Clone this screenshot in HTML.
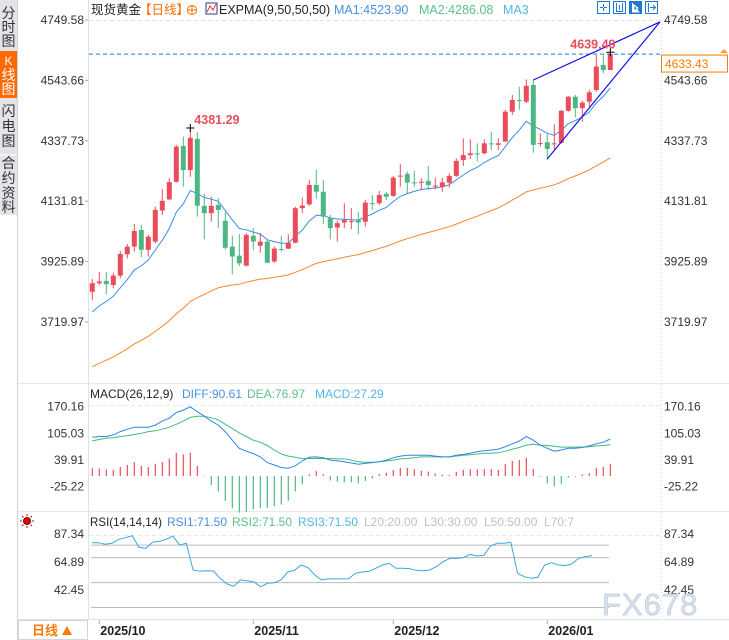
<!DOCTYPE html>
<html><head><meta charset="utf-8">
<style>
html,body{margin:0;padding:0;background:#fff;}
svg{display:block;font-family:"Liberation Sans","Noto Sans CJK SC",sans-serif;}
</style></head>
<body>
<svg id="chart" width="729" height="640" viewBox="0 0 729 640" xmlns="http://www.w3.org/2000/svg">
  <!-- sidebar -->
  <g>
    <rect x="0" y="0" width="17" height="215" fill="#e4e4e8"/>
    <line x1="17.5" y1="0" x2="17.5" y2="640" stroke="#cfd3da"/>
    <g>
      <text x="8.5" y="18" font-size="14" fill="#333" text-anchor="middle">分</text>
      <text x="8.5" y="32" font-size="14" fill="#333" text-anchor="middle">时</text>
      <text x="8.5" y="46" font-size="14" fill="#333" text-anchor="middle">图</text>
    </g>
    <g>
      <rect x="0" y="51" width="17" height="47" fill="#ff6a00"/>
      <text x="8.5" y="65" font-size="12" fill="#fff" text-anchor="middle">K</text>
      <text x="8.5" y="80" font-size="14" fill="#fff" text-anchor="middle">线</text>
      <text x="8.5" y="94" font-size="14" fill="#fff" text-anchor="middle">图</text>
    </g>
    <g>
      <text x="8.5" y="116" font-size="14" fill="#333" text-anchor="middle">闪</text>
      <text x="8.5" y="131" font-size="14" fill="#333" text-anchor="middle">电</text>
      <text x="8.5" y="146" font-size="14" fill="#333" text-anchor="middle">图</text>
    </g>
    <line x1="0" y1="155" x2="17" y2="155" stroke="#fff"/>
    <g>
      <text x="8.5" y="168" font-size="14" fill="#333" text-anchor="middle">合</text>
      <text x="8.5" y="183" font-size="14" fill="#333" text-anchor="middle">约</text>
      <text x="8.5" y="198" font-size="14" fill="#333" text-anchor="middle">资</text>
      <text x="8.5" y="212" font-size="14" fill="#333" text-anchor="middle">料</text>
    </g>
  </g>
  <!-- frame lines -->
  <line x1="88.5" y1="0" x2="88.5" y2="620" stroke="#dde3ea"/>
  <line x1="661.5" y1="20" x2="661.5" y2="620" stroke="#d0d6de" stroke-dasharray="1,3"/>
  <line x1="18" y1="383.5" x2="729" y2="383.5" stroke="#e6e9ee"/>
  <line x1="18" y1="511.5" x2="729" y2="511.5" stroke="#e6e9ee"/>
  <line x1="18" y1="619.5" x2="729" y2="619.5" stroke="#dde3ea"/>
  <line x1="89" y1="20.5" x2="660" y2="20.5" stroke="#e3e3e3" stroke-dasharray="4,3"/>
  <line x1="89" y1="405.5" x2="660" y2="405.5" stroke="#e3e8ee" stroke-dasharray="4,3"/>
  <line x1="89" y1="535.5" x2="660" y2="535.5" stroke="#e3e8ee" stroke-dasharray="4,3"/>

  <!-- header -->
  <g>
    <text x="91" y="14" font-size="12.5" fill="#222">现货黄金</text>
    <text x="139" y="14" font-size="12.5" fill="#ff6a00">【日线】</text>
    <g>
      <circle cx="192" cy="10" r="4.5" fill="none" stroke="#ff6a00"/>
      <line x1="187.5" y1="10" x2="196.5" y2="10" stroke="#ff6a00"/>
      <line x1="192" y1="5.5" x2="192" y2="14.5" stroke="#ff6a00"/>
    </g>
    <g>
      <rect x="206" y="3" width="11" height="11" fill="#fff" stroke="#2a3f8f"/>
      <polyline points="207,12 210,6 213,10 216,4" fill="none" stroke="#e33"/>
    </g>
    <text x="219" y="14" font-size="12.5" fill="#222">EXPMA(9,50,50,50)</text>
    <text x="334" y="14" font-size="12.5" fill="#4a90e2">MA1:4523.90</text>
    <text x="419" y="14" font-size="12.5" fill="#5cc28a">MA2:4286.08</text>
    <text x="503" y="14" font-size="12.5" fill="#52b6e8">MA3</text>
  </g>
  <g>
    <g><rect x="597.5" y="1.5" width="12" height="12" fill="#fff" stroke="#1f78d1"/><path d="M603.5 4v3M603.5 8v3M600 7.5h3M604 7.5h3" stroke="#1f78d1"/></g>
    <g><rect x="613.5" y="1.5" width="12" height="12" fill="#fff" stroke="#1f78d1"/><path d="M616.5 3v9M622.5 3v9M616 11.5h7M619.5 5v5" stroke="#1f78d1"/></g>
    <g><rect x="629.5" y="1.5" width="12" height="12" fill="#1f78d1" stroke="#1f78d1"/><path d="M632.5 3v9h7M634 5l4 3-4 3z" stroke="#fff" fill="#fff"/></g>
    <g><rect x="645.5" y="1.5" width="12" height="12" fill="#fff" stroke="#1f78d1"/><path d="M648.5 3v9M650 7.5h5M653 5l2.5 2.5-2.5 2.5" stroke="#1f78d1" fill="none"/></g>
  </g>

  <g id="main"></g>
  <g id="macd"></g>
  <g id="rsi"></g>

  <!-- macd header -->
  <g>
    <text x="90" y="398" font-size="12" fill="#222">MACD(26,12,9)</text>
    <text x="182" y="398" font-size="12" fill="#4a90e2">DIFF:90.61</text>
    <text x="247" y="398" font-size="12" fill="#5cc28a">DEA:76.97</text>
    <text x="315" y="398" font-size="12" fill="#52b6e8">MACD:27.29</text>
  </g>
  <!-- rsi header -->
  <g>
    <g>
      <circle cx="27" cy="521" r="3.5" fill="#e00" stroke="#000" stroke-width="0.8"/>
      <path d="M27 514v2M27 526v2M20 521h2M32 521h2M22 516l1.5 1.5M32 516l-1.5 1.5M22 526l1.5-1.5M32 526l-1.5-1.5" stroke="#e00"/>
    </g>
    <text x="90" y="526" font-size="12" fill="#222" textLength="72" lengthAdjust="spacingAndGlyphs">RSI(14,14,14)</text>
    <text x="167" y="526" font-size="12" fill="#4a90e2" textLength="60" lengthAdjust="spacingAndGlyphs">RSI1:71.50</text>
    <text x="232" y="526" font-size="12" fill="#5cc28a" textLength="60" lengthAdjust="spacingAndGlyphs">RSI2:71.50</text>
    <text x="298" y="526" font-size="12" fill="#52b6e8" textLength="60" lengthAdjust="spacingAndGlyphs">RSI3:71.50</text>
    <text x="364" y="526" font-size="12" fill="#c0c0c0">L20:20.00</text>
    <text x="424" y="526" font-size="12" fill="#c0c0c0">L30:30.00</text>
    <text x="484" y="526" font-size="12" fill="#c0c0c0">L50:50.00</text>
    <text x="544" y="526" font-size="12" fill="#c0c0c0">L70:7</text>
  </g>

  <!-- bottom -->
  <g>
    <rect x="18.5" y="620.5" width="69" height="19" fill="#fff" stroke="#d0d6de"/>
    <text x="32" y="635" font-size="13" font-weight="bold" fill="#ff7a00">日线</text>
    <path d="M62 635l5-9 5 9z" fill="#ff7a00"/>
  </g>
  <g id="dates"></g>
  <text x="602" y="615" font-size="31" fill="#d9e1ec" stroke="#bfcadb" stroke-width="0.7" letter-spacing="1">FX678</text>
</svg>
<script>
const NS='http://www.w3.org/2000/svg';
// ===== data =====
const opens =[3823,3852,3860,3846,3878,3951,3977,4034,3966,3994,4100,4138,4198,4320,4238,4344,4116,4091,4119,4065,3977,3946,3912,4014,3980,3994,3926,3969,3970,3990,4108,4121,4187,4164,4074,4042,4059,4062,4068,4062,4125,4125,4157,4150,4218,4225,4196,4197,4201,4184,4181,4195,4218,4272,4289,4295,4295,4329,4324,4335,4437,4477,4471,4528,4329,4333,4326,4331,4440,4488,4449,4471,4511,4596,4579];
const highs =[3866,3890,3890,3888,3962,3986,4054,4051,4017,4113,4173,4210,4324,4352,4381.29,4367,4156,4147,4142,4096,4014,4019,4023,4040,4023,4000,3977,4013,4019,4113,4144,4204,4238,4204,4085,4066,4125,4108,4096,4136,4153,4167,4164,4218,4259,4233,4235,4210,4252,4212,4211,4227,4278,4346,4343,4329,4343,4369,4346,4443,4494,4522,4547,4545,4363,4363,4394,4443,4490,4494,4474,4511,4630,4630,4639.49];
const lows  =[3795,3846,3815,3835,3869,3937,3960,3941,3943,3988,4085,4136,4195,4181,4215,4079,4002,4062,4040,3966,3883,3911,3909,3966,3956,3920,3922,3960,3968,3988,4091,4116,4140,4054,4002,3994,4040,4036,4019,4045,4102,4119,4136,4147,4181,4159,4181,4170,4170,4172,4164,4178,4215,4252,4275,4267,4292,4306,4306,4335,4426,4443,4466,4297,4318,4272,4306,4328,4437,4418,4403,4454,4505,4568,4579];
const closes=[3852,3858,3849,3878,3952,3977,4030,3966,4011,4102,4133,4197,4318,4238,4348,4116,4091,4116,4102,3973,3943,3920,4017,3994,3994,3922,3970,3966,3990,4108,4117,4187,4164,4079,4040,4057,4068,4064,4059,4127,4124,4153,4147,4212,4219,4195,4195,4198,4187,4185,4196,4218,4269,4289,4295,4294,4329,4328,4329,4437,4477,4474,4525,4324,4330,4310,4329,4440,4488,4449,4468,4503,4591,4579,4633.43];
const ema1Seed=3730, ema2Seed=3556;
const priceTicks=[4749.58,4543.66,4337.73,4131.81,3925.89,3719.97];
const lastPrice=4633.43;
const peakLabels=[[14,4381.29],[74,4639.49]];
const trendUpper=[[63,4545],[81.1,4743]];
const trendLower=[[65,4276],[81.1,4743]];

const macdHist=[19,18,16,15,22,27,34,25,22,30,34,43,57,53,57,25,-1,-22,-38,-61,-79,-90,-88,-82,-79,-78,-74,-70,-61,-38,-20,4,12,4,-11,-14,-15,-16,-18,-12,-6,5,8,15,20,20,17,13,11,6,3,2,10,15,17,16,17,17,15,29,37,39,45,17,-2,-18,-26,-20,-4,-2,4,7,20,22,30];
const difVals=[95,97,97,101,109,115,120,120,120,125,135,142,156,162,170,158,147,135,125,109,88,68,61,55,47,33,27,21,19,25,37,46,47,45,39,37,35,32,29,31,33,35,39,45,49,51,51,51,51,49,47,47,51,53,56,60,62,64,66,72,79,86,97,88,76,68,61,64,68,68,70,74,79,83,91];
const deaVals=[86,90,93,94,97,99,102,105,109,111,115,120,127,135,144,147,147,143,138,127,117,106,97,88,83,75,64,54,49,46,43,43,43,43,43,42,42,39,35,34,34,35,37,39,42,43,45,47,47,47,47,47,49,51,52,54,56,56,57,61,66,70,76,78,76,75,73,71,71,71,71,72,74,75,77];
const macdTicks=[170.16,105.03,39.91,-25.22];

const rsiVals=[82.0,82.0,80.7,81.5,84.7,86.0,87.6,78.3,77.5,82.3,83.1,84.7,87.3,80.1,81.5,60.1,59.0,59.5,59.3,53.4,48.9,47.0,52.1,51.3,50.5,46.7,49.4,49.9,52.1,58.5,59.8,64.1,61.9,56.1,52.1,52.9,52.9,52.9,53.1,57.4,58.5,59.0,61.4,64.1,65.4,61.4,61.4,61.2,59.8,59.5,60.1,62.8,66.8,69.4,69.4,70.0,72.6,71.3,71.8,79.3,81.5,81.5,82.3,57.4,54.7,53.4,54.2,64.1,65.9,64.1,63.6,64.9,69.4,70.8,71.6];
const rsiTicks=[87.34,64.89,42.45];
const rsiLevels=[80,70,50,30];

const dateLabels=['2025/10','2025/11','2025/12','2026/01'];
const dateIdx=[1,23,43,65];

// ===== scales =====
const xC=i=>92.3+7*i;
const yP=p=>20+(4749.58-p)*0.2933;
const yM=v=>476-v*0.407;
const xR=i=>91.7+6.76*i;
const yR=v=>536+(87.34-v)*1.247;
const UP='#eb4b5a', DN='#4cb782';

function mk(tag,attrs,parent){const e=document.createElementNS(NS,tag);for(const k in attrs)e.setAttribute(k,attrs[k]);parent.appendChild(e);return e;}
const main=document.getElementById('main'), macd=document.getElementById('macd'), rsi=document.getElementById('rsi'), dates=document.getElementById('dates');

// price axis labels
priceTicks.forEach(p=>{
  const y=yP(p);
  const l=mk('text',{x:84,y:y+4,'font-size':12,fill:'#333','text-anchor':'end'},main);
  
  
  l.textContent=p.toFixed(2);
  const r=mk('text',{x:664,y:y+4,'font-size':12,fill:'#333'},main);
  
  
  r.textContent=p.toFixed(2);
  mk('line',{x1:85,x2:88,y1:y,y2:y,stroke:'#9ac'},main);
});
// EMAs
function ema(seed,n){const a=2/(n+1);let e=seed;return closes.map(c=>(e=e+a*(c-e)));}
const e1=ema(ema1Seed,9), e2=ema(ema2Seed,50);
const l2=mk('polyline',{points:e2.map((v,i)=>xC(i)+','+yP(v).toFixed(1)).join(' '),fill:'none',stroke:'#f5882a','stroke-width':1},main);


const l1=mk('polyline',{points:e1.map((v,i)=>xC(i)+','+yP(v).toFixed(1)).join(' '),fill:'none',stroke:'#3a8ee6','stroke-width':1},main);


// candles
closes.forEach((c,i)=>{
  const o=opens[i], up=c>=o, col=up?UP:DN, x=xC(i);
  const g=mk('g',{},main);
  
  
  mk('line',{x1:x,x2:x,y1:yP(highs[i]),y2:yP(lows[i]),stroke:col,'stroke-width':1},g);
  const t=yP(Math.max(o,c)), b=yP(Math.min(o,c));
  mk('rect',{x:x-2.5,y:t,width:5,height:Math.max(1,b-t),fill:col},g);
});
// last price line
const yl=yP(lastPrice);
const dl=mk('line',{x1:89,x2:660,y1:yl,y2:yl,stroke:'#1a7ae8','stroke-dasharray':'4,3'},main);


const pb=mk('rect',{x:661.5,y:yl+1,width:66,height:17,fill:'#fff',stroke:'#ff7a00'},main);


const pt=mk('text',{x:665,y:yl+14,'font-size':12,fill:'#ff7a00'},main);


pt.textContent=lastPrice.toFixed(2);
mk('path',{d:`M720 ${yl-1}l4-4 4 4z`,fill:'#ff9a30'},main);
// trendlines
[trendUpper,trendLower].forEach((t,k)=>{
  const tl=mk('line',{x1:xC(t[0][0]),y1:yP(t[0][1]),x2:xC(t[1][0]),y2:yP(t[1][1]),stroke:'#1010ee','stroke-width':1.2},main);
  
  
});
// peak labels
peakLabels.forEach(([i,p])=>{
  const x=xC(i), y=yP(p);
  mk('path',{d:`M${x-4} ${y}h8M${x} ${y-4}v8`,stroke:'#000'},main);
  const t=mk('text',{x:i>60?x-40:x+4,y:y-4,'font-size':12.5,'font-weight':'bold',fill:'#e8505b'},main);
  
  
  t.textContent=p.toFixed(2);
});

// MACD
macdTicks.forEach(v=>{
  const y=yM(v);
  const l=mk('text',{x:84,y:y+4,'font-size':12,fill:'#333','text-anchor':'end'},macd);
  
  
  l.textContent=v.toFixed(2);
  const r=mk('text',{x:664,y:y+4,'font-size':12,fill:'#333'},macd);
  
  
  r.textContent=v.toFixed(2);
});
macdHist.forEach((v,i)=>{
  const b=mk('line',{x1:xC(i),x2:xC(i),y1:yM(0),y2:yM(v),stroke:v>=0?UP:DN,'stroke-width':1.2},macd);
  
  
});
const dea=mk('polyline',{points:deaVals.map((v,i)=>xC(i)+','+yM(v).toFixed(1)).join(' '),fill:'none',stroke:'#3dbd7d'},macd);


const dif=mk('polyline',{points:difVals.map((v,i)=>xC(i)+','+yM(v).toFixed(1)).join(' '),fill:'none',stroke:'#2f86e8'},macd);



// RSI
rsiLevels.forEach(v=>{
  const g=mk('line',{x1:91,x2:609,y1:yR(v),y2:yR(v),stroke:'#bbb'},rsi);
  
  
});
rsiTicks.forEach(v=>{
  const y=yR(v)-2;
  const l=mk('text',{x:84,y:y+4,'font-size':12,fill:'#333','text-anchor':'end'},rsi);
  
  
  l.textContent=v.toFixed(2);
  const r=mk('text',{x:664,y:y+4,'font-size':12,fill:'#333'},rsi);
  
  
  r.textContent=v.toFixed(2);
});
const rl=mk('polyline',{points:rsiVals.map((v,i)=>xR(i).toFixed(1)+','+yR(v).toFixed(1)).join(' '),fill:'none',stroke:'#3aa6e0'},rsi);



// dates
dateLabels.forEach((d,k)=>{
  const x=xC(dateIdx[k]);
  mk('line',{x1:x,x2:x,y1:620,y2:624,stroke:'#aaa'},dates);
  const t=mk('text',{x:x+1,y:635,'font-size':12.5,'font-weight':'bold',fill:'#222'},dates);
  
  
  t.textContent=d;
});
</script>
</body></html>
